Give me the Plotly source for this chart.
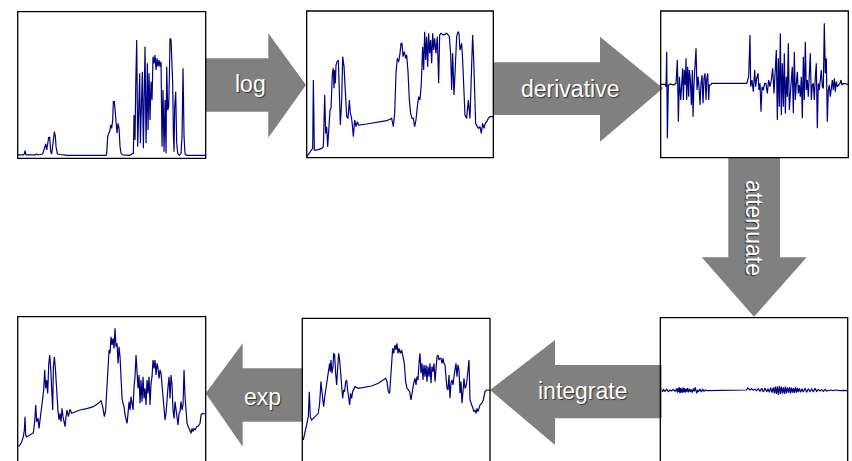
import plotly.graph_objects as go

# ---------------- data (arbitrary units) ----------------
# panel 1: raw signal
t_raw = [53,70,73,75,78,105,110,113,128,132,135,137,140,143,146,149,152,155,160,163,166,168,172,180,190,200,
         318,320,323,326,329,332,335,338,340,343,346,348,351,354,357,360,363,368,390,395,400,402,405,407,410,413,
         416,419,421,424,427,430,432,435,438,440,442,444,447,450,453,456,459,462,465,468,471,474,477,480,483,486,
         489,492,495,498,500,503,506,508,510,513,516,518,520,522,524,527,530,533,538,543,546,549,552,555,560,617]
v_raw = [35,35,38,48,35,35,38,35,38,55,60,68,50,80,88,88,45,38,80,105,90,60,38,36,35,34,
         34,40,90,100,105,125,115,140,195,195,160,120,100,130,115,60,40,35,34,38,40,155,80,240,380,60,
         200,280,70,200,285,55,260,360,70,200,310,110,280,140,255,200,330,310,335,290,325,300,320,300,315,60,
         230,45,200,40,300,170,180,270,385,380,320,250,100,45,180,225,70,40,34,40,90,295,90,38,34,34]

# panel 2: log of signal
t_log = [20,30,38,40,43,50,65,70,74,77,80,83,86,90,93,97,100,102,104,106,108,111,115,118,121,125,128,132,136,140,
         144,148,151,154,157,160,164,168,172,176,200,230,260,275,280,284,288,292,296,300,303,306,309,313,317,320,
         324,328,332,336,340,344,348,352,356,360,364,368,371,374,377,380,383,386,389,392,395,398,401,404,408,412,
         416,419,423,430,440,445,448,452,455,458,462,466,470,474,477,480,485,488,492,495,500,505,510,515,518,521,
         524,527,532,536,540,544,548,552,556,560,565,570,580]
v_log = [30,45,55,260,50,50,55,60,215,100,120,60,100,170,175,280,295,235,290,250,305,315,320,200,125,200,330,300,200,150,
         145,200,160,150,125,90,140,120,135,125,128,132,138,145,120,160,280,325,315,340,370,370,330,345,325,335,
         285,200,160,145,145,120,140,180,210,200,250,360,290,405,320,390,300,400,340,380,310,400,350,385,340,390,
         250,395,400,395,400,395,390,340,230,340,215,300,390,405,400,350,370,320,200,155,145,200,145,325,395,325,
         170,130,120,115,120,100,130,115,130,135,145,150,150]

# panel 3: derivative
t_der = [32,45,48,50,52,55,60,70,78,82,85,88,92,95,98,100,103,106,108,110,113,116,118,121,124,127,129,132,135,138,
         141,144,147,150,153,156,159,162,165,168,170,173,176,178,182,185,290,292,296,300,302,306,310,314,317,320,
         324,327,330,333,336,340,344,348,352,356,360,364,368,372,376,379,382,385,388,391,394,397,400,403,406,409,
         412,415,418,421,424,427,430,433,436,439,442,445,448,451,454,457,460,463,466,469,472,475,478,481,484,487,
         490,493,496,499,502,505,508,511,514,517,520,523,526,529,532,535,538,541,544,547,550,553,556,559,562,566,
         570,573,576,580,590,595]
v_der = [247,247,240,345,85,245,248,245,250,320,135,270,200,260,295,200,290,245,325,200,300,210,290,260,185,290,150,250,300,355,
         230,270,240,185,250,275,190,265,280,200,260,280,200,245,245,250,250,255,270,395,240,260,225,290,240,265,
         280,230,250,165,240,230,250,250,220,260,240,260,295,220,300,350,140,325,180,400,155,310,180,340,160,270,
         210,370,170,230,260,300,160,345,200,250,285,220,245,210,270,145,330,200,375,230,260,210,285,340,200,245,
         250,200,270,310,115,250,230,260,290,240,235,430,280,325,135,230,245,210,250,260,230,265,225,255,240,245,
         250,260,245,250,248,247]

# panel 6: attenuated derivative
t_att = [541,545,548,551,555,560,565,570,575,580,585,
         590,592,594,596,598,600,602,604,606,608,610,612,614,616,618,620,622,625,628,631,634,637,640,643,646,650,653,656,
         660,664,668,672,676,680,690,700,750,795,800,803,806,810,815,820,825,830,835,840,845,850,855,860,864,868,872,876,
         880,883,886,889,892,895,898,901,904,907,910,913,916,919,922,925,928,931,934,937,940,943,946,949,952,955,958,
         962,966,970,975,980,985,990,995,1000,1005,1010,1015,1020,1025,1030,1035,1040,1050,1060,1070,1080,1090,1103]
v_att = [8,10,5,11,6,12,5,10,7,12,6,
         14,2,16,4,18,0,16,3,14,1,17,4,15,2,13,5,16,3,14,4,12,2,15,6,18,0,10,6,
         13,4,12,6,10,8,8,8,8,8,10,16,12,10,14,9,12,8,14,6,15,4,16,5,14,3,17,2,
         18,0,20,-2,20,-4,22,-2,20,0,18,-2,20,0,17,2,19,0,17,2,16,1,18,2,16,4,15,
         3,14,4,15,3,14,5,13,4,15,6,12,7,11,6,12,7,10,8,10,8,9,8]

# panel 5: integrated
t_int = [25,30,35,40,43,46,50,55,60,65,70,74,78,82,86,90,94,98,101,104,106,108,111,114,116,119,122,125,128,131,134,137,
         140,143,146,149,152,155,158,161,164,167,170,173,176,180,190,210,230,250,265,272,276,280,284,287,290,293,296,
         300,303,306,309,312,316,320,324,328,332,336,340,344,348,352,356,360,363,366,369,372,375,378,381,384,387,390,
         393,396,399,402,405,408,411,414,417,420,423,426,429,432,435,438,441,444,447,450,453,456,459,462,465,468,471,
         474,477,480,483,486,489,492,495,498,501,504,507,510,513,516,519,522,525,528,531,534,537,540,543,546,549,552,
         555,560,565,570,575,580,585]
v_int = [110,130,155,180,255,180,170,175,180,185,190,220,285,245,210,245,270,305,325,340,315,350,310,330,370,365,310,275,325,370,350,300,
         270,235,260,255,285,290,260,225,215,250,235,255,260,270,265,268,272,280,290,295,285,255,250,305,340,385,370,
         395,380,400,370,385,370,380,360,340,285,265,260,255,230,260,280,295,275,300,290,340,370,310,340,290,335,300,
         335,285,330,300,340,280,330,315,340,285,325,360,365,350,355,355,340,355,340,335,300,265,260,305,235,280,290,
         275,300,330,340,300,335,320,250,285,220,255,295,265,270,290,320,350,230,220,215,205,195,200,190,205,195,205,
         215,220,230,255,260,260,258]

# panel 4: exp of integrated
t_exp = [55,60,65,70,73,75,77,80,85,95,100,104,107,110,114,117,120,123,127,131,134,137,140,143,146,149,152,155,158,160,
         163,166,170,174,177,180,183,186,189,192,195,198,201,205,210,215,225,240,260,280,295,303,308,313,317,320,324,327,
         330,333,336,339,342,345,348,351,354,357,360,363,366,369,372,375,378,381,384,387,390,393,396,399,402,405,408,
         411,414,417,420,423,426,429,432,435,438,441,444,447,450,453,456,459,462,465,468,471,474,477,480,483,486,489,
         492,495,498,501,504,507,510,513,516,519,522,525,528,531,534,537,540,543,546,549,552,555,558,561,565,570,573,
         576,579,582,585,590,595,600,603,607,612,617]
v_exp = [90,95,105,120,140,180,125,120,122,128,132,165,215,165,175,145,170,195,230,260,320,265,290,250,335,365,325,255,200,330,
         360,325,250,195,170,190,165,205,180,160,150,180,200,180,202,190,195,200,204,210,220,228,210,180,200,255,325,380,
         370,420,395,415,385,445,390,400,340,390,360,285,235,220,210,185,175,160,190,225,200,240,220,200,270,300,365,
         300,265,305,220,290,225,300,235,265,215,290,250,300,215,280,300,350,325,350,305,340,325,295,320,310,270,260,
         205,170,190,245,270,300,235,305,275,200,175,225,200,165,155,190,195,225,200,215,320,240,180,160,150,140,130,
         145,135,145,140,150,152,160,185,190,188,188]

labels = ["log", "derivative", "attenuate", "integrate", "exp"]

# ---------------- layout helpers (pixel geometry of the 852x461 canvas) ----------------
W, H = 852, 461
def px(x):
    return x / W
def py(y):
    return 1 - y / H

# (series, x-range, y-range, pixel box [left, top, right, bottom], cut-off at bottom)
panels = [
    (t_raw, v_raw, [53, 617], [25, 465], [17.7, 11.7, 205.7, 158.3], False),
    (t_log, v_log, [20, 580], [27, 467], [306.7, 11.0, 493.3, 157.7], False),
    (t_der, v_der, [32, 595], [27, 467], [660.7, 11.0, 848.3, 157.7], False),
    (t_exp, v_exp, [53, 617], [47, 480], [17.7, 316.7, 205.7, 461], True),
    (t_int, v_int, [22, 585], [47, 475], [302.3, 318.3, 490.0, 461], True),
    (t_att, v_att, [541, 1103], [-203, 227], [660.3, 317.7, 847.7, 461], True),
]

fig = go.Figure()
shapes = []

def path(points):
    s = "M " + " L ".join(f"{px(x):.5f},{py(y):.5f}" for x, y in points) + " Z"
    return s

GREY = "#808080"
arrows = [
    [(206, 58.3), (268.3, 58.3), (268.3, 33.3), (306, 85), (268.3, 137.7), (268.3, 111.7), (206, 111.7)],
    [(493, 62.3), (600, 62.3), (600, 36.7), (663, 88.3), (600, 141.7), (600, 115), (493, 115)],
    [(728.3, 157), (780, 157), (780, 257.3), (806.7, 257.3), (754, 316.7), (701.7, 257.3), (728.3, 257.3)],
    [(661.7, 365), (555, 365), (555, 340), (490, 390), (555, 445), (555, 418.3), (661.7, 418.3)],
    [(302, 368.3), (242.7, 368.3), (242.7, 343.3), (205.7, 393.3), (242.7, 446.7), (242.7, 421.7), (302, 421.7)],
]
for a in arrows:
    shapes.append(dict(type="path", path=path(a), xref="paper", yref="paper",
                       fillcolor=GREY, line=dict(width=0), layer="above"))

for i, (tx, vy, xr, yr, box, cut) in enumerate(panels):
    n = "" if i == 0 else str(i + 1)
    l, t, r, b = box
    fig.add_trace(go.Scatter(x=tx, y=vy, mode="lines", xaxis="x" + n, yaxis="y" + n,
                             line=dict(color="#000080", width=1.2), hoverinfo="skip"))
    fig.update_layout(**{
        "xaxis" + n: dict(domain=[px(l), px(r)], range=xr, visible=False, fixedrange=True),
        "yaxis" + n: dict(domain=[py(b), py(t)], range=yr, visible=False, fixedrange=True),
    })
    shapes.append(dict(type="rect", xref=f"x{n} domain", yref=f"y{n} domain",
                       x0=0, x1=1, y0=(-0.3 if cut else 0), y1=1,
                       line=dict(color="black", width=1.3), fillcolor="rgba(0,0,0,0)", layer="above"))

label_pos = [(250, 84, 0), (570, 89, 0), (754, 228, 90), (583, 391, 0), (262.5, 397, 0)]
annotations = []
for txt, (x, y, ang) in zip(labels, label_pos):
    annotations.append(dict(text=txt, x=px(x), y=py(y), xref="paper", yref="paper",
                            showarrow=False, textangle=ang, xanchor="center", yanchor="middle",
                            font=dict(family="Liberation Sans, Arial, sans-serif", size=23, color="white",
                                      shadow="1px 1px 1px #333333")))

fig.update_layout(width=W, height=H, margin=dict(l=0, r=0, t=0, b=0),
                  paper_bgcolor="white", plot_bgcolor="white", showlegend=False,
                  shapes=shapes, annotations=annotations)

fig.write_html("out.html", config={"displayModeBar": False},
               post_script="document.body.style.margin='0';document.body.style.padding='0';")
